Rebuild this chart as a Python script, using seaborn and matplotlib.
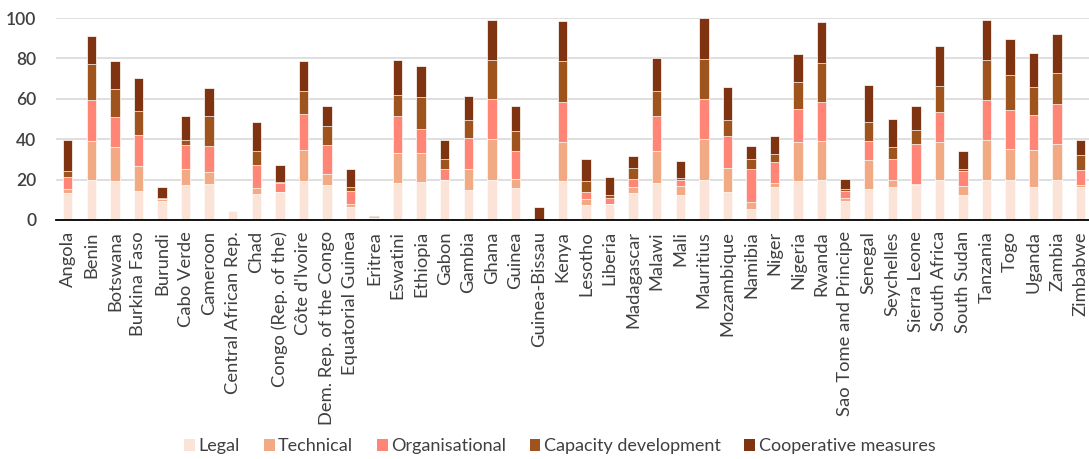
import numpy as np
import pandas as pd
import matplotlib
matplotlib.use("Agg")
import matplotlib.pyplot as plt
from matplotlib.patches import Patch
import seaborn as sns

countries = ["Angola", "Benin", "Botswana", "Burkina Faso", "Burundi", "Cabo Verde", "Cameroon",
             "Central African Rep.", "Chad", "Congo (Rep. of the)", "Côte d'Ivoire",
             "Dem. Rep. of the Congo", "Equatorial Guinea", "Eritrea", "Eswatini", "Ethiopia",
             "Gabon", "Gambia", "Ghana", "Guinea", "Guinea-Bissau", "Kenya", "Lesotho", "Liberia",
             "Madagascar", "Malawi", "Mali", "Mauritius", "Mozambique", "Namibia", "Niger",
             "Nigeria", "Rwanda", "Sao Tome and Principe", "Senegal", "Seychelles", "Sierra Leone",
             "South Africa", "South Sudan", "Tanzania", "Togo", "Uganda", "Zambia", "Zimbabwe"]

legal = [13.5, 19.8, 19.3, 14.2, 9.6, 17.1, 17.8, 4.4, 12.7, 13.8, 19.3, 17.3, 6.4, 1.2, 18.3,
         18.8, 19.8, 14.7, 19.8, 16.0, 0.0, 19.3, 7.2, 7.9, 13.5, 18.1, 12.2, 19.8, 13.8, 5.4,
         16.5, 19.3, 19.8, 9.4, 15.3, 16.5, 17.1, 19.8, 12.4, 19.8, 19.8, 16.3, 19.8, 16.1]
technical = [1.8, 19.2, 16.9, 12.7, 0.6, 8.1, 6.1, 0.0, 3.1, 0.0, 15.3, 5.4, 1.5, 0.0, 14.8,
             14.3, 0.0, 10.5, 20.4, 4.3, 0.0, 19.3, 3.2, 0.0, 2.8, 16.0, 4.6, 20.2, 11.7, 3.5,
             1.8, 19.1, 19.2, 1.5, 14.4, 3.3, 0.7, 18.8, 4.6, 19.7, 15.3, 18.3, 17.8, 1.2]
organisational = [6.0, 20.3, 14.9, 15.1, 0.2, 12.0, 12.8, 0.0, 11.5, 4.4, 17.8, 14.4, 6.4, 0.0,
                  18.3, 12.0, 5.6, 15.5, 19.6, 14.1, 0.0, 19.7, 3.4, 2.8, 4.0, 17.3, 2.8, 19.8,
                  16.0, 16.3, 10.4, 16.5, 19.2, 3.3, 9.3, 10.2, 19.6, 14.8, 7.1, 20.0, 19.3,
                  17.5, 19.9, 7.6]
capacity = [2.9, 17.8, 13.6, 11.9, 0.6, 2.3, 14.7, 0.0, 7.1, 0.6, 11.4, 9.2, 2.0, 0.3, 10.4,
            15.7, 4.7, 8.7, 19.3, 9.9, 0.0, 20.3, 5.5, 1.7, 5.2, 12.4, 1.0, 20.1, 7.9, 4.9,
            3.9, 13.3, 19.7, 1.0, 9.3, 6.1, 7.1, 12.7, 1.3, 19.7, 17.3, 13.6, 15.2, 7.2]
cooperative = [15.2, 14.2, 13.9, 16.3, 5.5, 11.9, 14.0, 0.0, 13.9, 8.4, 14.9, 10.2, 8.9, 0.5,
               17.3, 15.5, 9.6, 12.0, 20.1, 12.0, 6.3, 19.9, 11.0, 8.9, 6.1, 16.4, 8.6, 19.9,
               16.4, 6.5, 8.9, 14.0, 20.0, 4.9, 18.7, 14.1, 11.8, 19.9, 8.7, 19.8, 18.1, 17.2,
               19.6, 7.6]

series_names = ["Legal", "Technical", "Organisational", "Capacity development", "Cooperative measures"]
colors = ["#FCE3D7", "#F2AA84", "#FF8677", "#9E541C", "#7F3310"]

df = pd.DataFrame({"country": countries, "Legal": legal, "Technical": technical,
                   "Organisational": organisational, "Capacity development": capacity,
                   "Cooperative measures": cooperative})
cum = df[series_names].cumsum(axis=1)

sns.set_theme(style="white")
plt.rcParams["font.family"] = ["Lato", "DejaVu Sans"]

fig = plt.figure(figsize=(10.89, 4.59), dpi=100)
ax = fig.add_axes([56 / 1089, (459 - 220) / 459, (1089 - 56) / 1089, 202 / 459])

for name, col in reversed(list(zip(series_names, colors))):
    sns.barplot(x=df["country"], y=cum[name], color=col, saturation=1, width=0.4,
                edgecolor="white", linewidth=0.5, ax=ax, zorder=2, order=countries)

ax.set_ylim(0, 100)
ax.set_xlim(-0.5, 43.35)
ax.set_yticks([0, 20, 40, 60, 80, 100])
ax.yaxis.grid(True, color="#D9D9D9", linewidth=1.2, zorder=0)
ax.set_axisbelow(True)
for s in ["top", "right", "left"]:
    ax.spines[s].set_visible(False)
ax.spines["bottom"].set_color("black")
ax.spines["bottom"].set_linewidth(1.3)
ax.set_xlabel("")
ax.set_ylabel("")
ax.tick_params(axis="x", rotation=90, labelsize=13.2, colors="#404040", length=0, pad=8)
ax.tick_params(axis="y", labelsize=12.5, colors="#404040", length=0, pad=14)
for lbl in ax.get_yticklabels():
    lbl.set_fontweight("semibold")

handles = [Patch(facecolor=c, edgecolor="none") for c in colors]
fig.legend(handles, series_names, loc="center", bbox_to_anchor=(560 / 1089, 0.028),
           ncol=5, frameon=False, fontsize=13, handlelength=0.6, handleheight=0.6,
           handletextpad=0.2, columnspacing=1.3, labelcolor="#404040")

fig.savefig("out.png", dpi=100)
